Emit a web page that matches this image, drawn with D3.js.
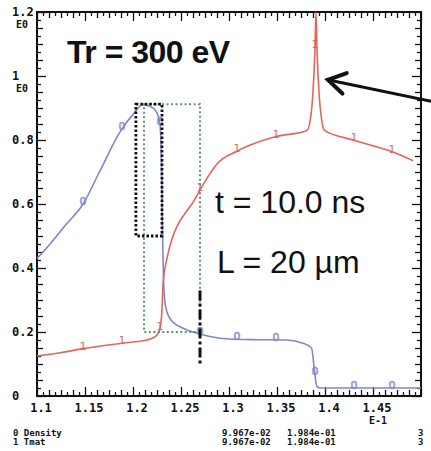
<!DOCTYPE html>
<html>
<head>
<meta charset="utf-8">
<script src="https://cdn.jsdelivr.net/npm/d3@7"></script>
<style>
  body { margin: 0; background: #fff; }
  svg { display: block; }
</style>
</head>
<body>
<div id="chart"></div>
<script>

// ======================= //
// DATA
// ======================= //

// Density curve (series 0)
var densX = [1.100, 1.115, 1.130, 1.148, 1.165, 1.1875, 1.200, 1.210, 1.218, 1.224, 1.228, 1.2295, 1.2305, 1.2315, 1.2325, 1.234, 1.237, 1.242, 1.250, 1.2625, 1.280, 1.300, 1.330, 1.360, 1.377, 1.386, 1.389, 1.3915, 1.395, 1.500]
var densY = [0.43, 0.48, 0.535, 0.60, 0.70, 0.83, 0.88, 0.91, 0.905, 0.89, 0.85, 0.75, 0.55, 0.40, 0.32, 0.28, 0.25, 0.23, 0.215, 0.20, 0.186, 0.178, 0.176, 0.175, 0.165, 0.15, 0.08, 0.03, 0.025, 0.025]

// Tmat curve (series 1)
var tmatX = [1.100, 1.124, 1.148, 1.1885, 1.2146, 1.225, 1.228, 1.2302, 1.2313, 1.2354, 1.2400, 1.2458, 1.2540, 1.2625, 1.270, 1.2802, 1.2875, 1.3083, 1.3479, 1.3813, 1.3850, 1.3875, 1.3895, 1.3906, 1.3917, 1.3937, 1.3962, 1.3995, 1.4292, 1.4729, 1.4917]
var tmatY = [0.125, 0.135, 0.148, 0.165, 0.175, 0.19, 0.21, 0.27, 0.35, 0.43, 0.485, 0.53, 0.57, 0.605, 0.645, 0.695, 0.725, 0.765, 0.81, 0.83, 0.87, 0.95, 1.08, 1.2, 1.08, 0.95, 0.87, 0.83, 0.80, 0.76, 0.735]

// x positions of the plot symbols
var markerX = [1.148, 1.1885, 1.228, 1.2698, 1.3083, 1.349, 1.3896, 1.4302, 1.4698]

// tick labels
var xTicks = [1.1, 1.15, 1.2, 1.25, 1.3, 1.35, 1.4, 1.45]
var xTickLabels = ["1.1", "1.15", "1.2", "1.25", "1.3", "1.35", "1.4", "1.45"]
var yTicks = [0, 0.2, 0.4, 0.6, 0.8, 1, 1.2]
var yTickLabels = ["0", "0.2", "0.4", "0.6", "0.8", "1", "1.2"]

// annotation boxes (data coordinates)
var blackBox = {x0: 1.203, x1: 1.2302, y0: 0.50, y1: 0.912}
var greenBox = {x0: 1.2115, x1: 1.2698, y0: 0.20, y1: 0.912}
var dashLine = {x: 1.2698, y0: 0.10, y1: 0.33}
var arrow = {from: [1.512, 0.92], to: [1.403, 0.988]}

// ======================= //
// SVG AREA
// ======================= //

var margin = {top: 12, right: 10, bottom: 55, left: 37},
    width = 384,
    height = 384;

var svg = d3.select("#chart")
  .append("svg")
    .attr("width", 431)
    .attr("height", 451)
  .append("g")
    .attr("transform", "translate(" + margin.left + "," + margin.top + ")");

var x = d3.scaleLinear().domain([1.1, 1.5]).range([0, width])
var y = d3.scaleLinear().domain([0, 1.2]).range([height, 0])

var blue = "#7f86cc"
var red = "#e5645c"
var green = "#5f9470"

// ======================= //
// AXES (ticks pointing inward)
// ======================= //

var xMinor = d3.range(1.1, 1.5001, 0.00625)
var yMinor = d3.range(0, 1.2001, 0.025)

function isMajor(v, step) { return Math.abs(v / step - Math.round(v / step)) < 1e-6 }

// bottom
svg.append("g").attr("transform", "translate(0," + height + ")")
  .call(d3.axisTop(x).tickValues(xMinor).tickFormat("").tickSizeOuter(0))
  .call(g => g.select(".domain").remove())
  .selectAll(".tick line").attr("y2", d => isMajor(d - 1.1, 0.05) ? -9 : (isMajor(d - 1.1, 0.0125) ? -6 : -4))
// top
svg.append("g")
  .call(d3.axisBottom(x).tickValues(xMinor).tickFormat("").tickSizeOuter(0))
  .call(g => g.select(".domain").remove())
  .selectAll(".tick line").attr("y2", d => isMajor(d - 1.1, 0.05) ? 9 : (isMajor(d - 1.1, 0.0125) ? 6 : 4))
// left
svg.append("g")
  .call(d3.axisRight(y).tickValues(yMinor).tickFormat("").tickSizeOuter(0))
  .call(g => g.select(".domain").remove())
  .selectAll(".tick line").attr("x2", d => isMajor(d, 0.2) ? 9 : (isMajor(d, 0.05) ? 6 : 4))
// right
svg.append("g").attr("transform", "translate(" + width + ",0)")
  .call(d3.axisLeft(y).tickValues(yMinor).tickFormat("").tickSizeOuter(0))
  .call(g => g.select(".domain").remove())
  .selectAll(".tick line").attr("x2", d => isMajor(d, 0.2) ? -9 : (isMajor(d, 0.05) ? -6 : -4))

svg.selectAll(".tick line").attr("stroke", "#111").attr("stroke-width", 1.3)

// frame
svg.append("rect")
  .attr("x", 0).attr("y", 0)
  .attr("width", width).attr("height", height)
  .attr("fill", "none")
  .attr("stroke", "#111")
  .attr("stroke-width", 2)

// tick labels
var tickFont = "'DejaVu Sans Mono', monospace"

svg.selectAll("xLabels")
  .data(xTicks)
  .enter()
  .append("text")
    .attr("x", d => x(d) + 4)
    .attr("y", height + 16)
    .text((d, i) => xTickLabels[i])
    .style("font-family", tickFont)
    .style("font-weight", "bold")
    .style("font-size", "12px")
    .style("text-anchor", "middle")
    .style("fill", "#111")

svg.append("text")
  .attr("x", x(1.45) + 5)
  .attr("y", height + 28)
  .text("E-1")
  .style("font-family", tickFont)
  .style("font-weight", "bold")
  .style("font-size", "10px")
  .style("text-anchor", "middle")
  .style("fill", "#111")

svg.selectAll("yLabels")
  .data(yTicks)
  .enter()
  .append("text")
    .attr("x", -25)
    .attr("y", d => y(d) + 4)
    .text((d, i) => yTickLabels[i])
    .style("font-family", tickFont)
    .style("font-weight", "bold")
    .style("font-size", "12px")
    .style("fill", "#111")

// exponent under "1" and "1.2"
svg.selectAll("yExp")
  .data([1, 1.2])
  .enter()
  .append("text")
    .attr("x", -21)
    .attr("y", d => y(d) + 16)
    .text("E0")
    .style("font-family", tickFont)
    .style("font-weight", "bold")
    .style("font-size", "10px")
    .style("fill", "#111")

// ======================= //
// CURVES
// ======================= //

var line = d3.line()
  .x(d => x(d[0]))
  .y(d => y(d[1]))
  .curve(d3.curveMonotoneX)

var densData = densX.map((v, i) => [v, densY[i]])
var tmatData = tmatX.map((v, i) => [v, tmatY[i]])

svg.append("path")
  .datum(densData)
  .attr("d", line)
  .attr("fill", "none")
  .attr("stroke", blue)
  .attr("stroke-width", 1.6)

svg.append("path")
  .datum(tmatData)
  .attr("d", line)
  .attr("fill", "none")
  .attr("stroke", red)
  .attr("stroke-width", 1.6)

// symbols sit on the curve (linear lookup along the series)
function valueAt(xs, ys, v) {
  var i = d3.bisectLeft(xs, v)
  if (i <= 0) return ys[0]
  if (i >= xs.length) return ys[ys.length - 1]
  var t = (v - xs[i - 1]) / (xs[i] - xs[i - 1])
  return ys[i - 1] + t * (ys[i] - ys[i - 1])
}

svg.selectAll("densMarks")
  .data(markerX)
  .enter()
  .append("text")
    .attr("x", d => x(d))
    .attr("y", d => y(valueAt(densX, densY, d)) + 1)
    .text("0")
    .style("font-family", "'DejaVu Sans', sans-serif")
    .style("font-size", "11px")
    .style("text-anchor", "middle")
    .style("fill", "none")
    .style("stroke", blue)
    .style("stroke-width", 0.7)

svg.selectAll("tmatMarks")
  .data(markerX)
  .enter()
  .append("text")
    .attr("x", d => x(d))
    .attr("y", d => y(valueAt(tmatX, tmatY, d)) + 1)
    .text("1")
    .style("font-family", "'DejaVu Sans', sans-serif")
    .style("font-size", "11px")
    .style("text-anchor", "middle")
    .style("fill", red)

// ======================= //
// BOXES, DASHED LINE, ARROW
// ======================= //

svg.append("rect")
  .attr("x", x(greenBox.x0))
  .attr("y", y(greenBox.y1))
  .attr("width", x(greenBox.x1) - x(greenBox.x0))
  .attr("height", y(greenBox.y0) - y(greenBox.y1))
  .attr("fill", "none")
  .attr("stroke", green)
  .attr("stroke-width", 2)
  .style("stroke-dasharray", "2,2.5")

svg.append("rect")
  .attr("x", x(blackBox.x0))
  .attr("y", y(blackBox.y1))
  .attr("width", x(blackBox.x1) - x(blackBox.x0))
  .attr("height", y(blackBox.y0) - y(blackBox.y1))
  .attr("fill", "none")
  .attr("stroke", "#111")
  .attr("stroke-width", 2.8)
  .style("stroke-dasharray", "2.5,2")

svg.append("line")
  .attr("x1", x(dashLine.x)).attr("x2", x(dashLine.x))
  .attr("y1", y(dashLine.y1)).attr("y2", y(dashLine.y0))
  .attr("stroke", "#111")
  .attr("stroke-width", 3)
  .style("stroke-dasharray", "10,3,3,3")

// arrow
var ax0 = x(arrow.from[0]), ay0 = y(arrow.from[1]),
    ax1 = x(arrow.to[0]), ay1 = y(arrow.to[1])
var ang = Math.atan2(ay0 - ay1, ax0 - ax1)
var headLen = 20, spread = 0.55
svg.append("line")
  .attr("x1", ax0).attr("y1", ay0)
  .attr("x2", ax1 + 2 * Math.cos(ang)).attr("y2", ay1 + 2 * Math.sin(ang))
  .attr("stroke", "#111")
  .attr("stroke-width", 3)
svg.append("path")
  .attr("d", "M" + (ax1 + headLen * Math.cos(ang - spread)) + "," + (ay1 + headLen * Math.sin(ang - spread)) +
             "L" + ax1 + "," + ay1 +
             "L" + (ax1 + headLen * Math.cos(ang + spread)) + "," + (ay1 + headLen * Math.sin(ang + spread)))
  .attr("fill", "none")
  .attr("stroke", "#111")
  .attr("stroke-width", 4)
  .attr("stroke-linejoin", "miter")
  .attr("stroke-linecap", "round")

// ======================= //
// TEXT ANNOTATIONS
// ======================= //

svg.append("text")
  .attr("x", 30)
  .attr("y", 51)
  .text("Tr = 300 eV")
  .style("font-family", "'Liberation Sans', Arial, sans-serif")
  .style("font-weight", "bold")
  .style("font-size", "32px")
  .style("letter-spacing", "-0.5px")
  .style("fill", "#111")

svg.append("text")
  .attr("x", 178)
  .attr("y", 201)
  .text("t = 10.0 ns")
  .style("font-family", "'Liberation Sans', Arial, sans-serif")
  .style("font-size", "32px")
  .style("fill", "#111")

svg.append("text")
  .attr("x", 180)
  .attr("y", 261)
  .text("L = 20 µm")
  .style("font-family", "'Liberation Sans', Arial, sans-serif")
  .style("font-size", "32px")
  .style("fill", "#111")

// ======================= //
// FOOTER (series legend)
// ======================= //

var legendNames = ["0 Density", "1 Tmat"]
var legendMin = ["9.967e-02", "9.967e-02"]
var legendMax = ["1.984e-01", "1.984e-01"]
var legendN = ["3", "3"]

var foot = svg.append("g").attr("transform", "translate(" + (-margin.left) + ",0)")
legendNames.forEach(function(name, i) {
  var yy = 436 - margin.top + i * 9
  foot.append("text").attr("x", 13).attr("y", yy).text(name)
    .style("font-family", tickFont).style("font-weight", "bold").style("font-size", "9px").style("fill", "#111")
  foot.append("text").attr("x", 222).attr("y", yy).text(legendMin[i])
    .style("font-family", tickFont).style("font-weight", "bold").style("font-size", "9px").style("fill", "#111")
  foot.append("text").attr("x", 287).attr("y", yy).text(legendMax[i])
    .style("font-family", tickFont).style("font-weight", "bold").style("font-size", "9px").style("fill", "#111")
  foot.append("text").attr("x", 418).attr("y", yy).text(legendN[i])
    .style("font-family", tickFont).style("font-weight", "bold").style("font-size", "9px").style("fill", "#111")
})

</script>
</body>
</html>
